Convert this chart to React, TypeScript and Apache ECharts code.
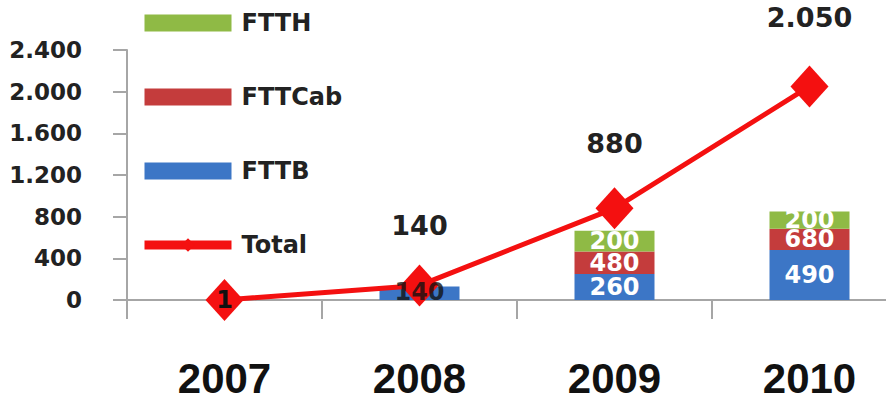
import React, { useEffect, useRef } from "react";
import * as echarts from "echarts";

const years = ["2007", "2008", "2009", "2010"];
// drawn segment heights
const fttbHeights = [null, 130, 250, 480];
const fttcabHeights = [null, null, 215, 205];
const ftthHeights = [null, null, 200, 165];
// numbers printed on the segments
const fttbLabels = ["", "140", "260", "490"];
const fttcabLabels = ["", "", "480", "680"];
const ftthLabels = ["", "", "200", "200"];
const totalValues = [1, 140, 880, 2050];
const totalLabels = ["1", "140", "880", "2.050"];
const yTicks = [0, 400, 800, 1200, 1600, 2000, 2400];

const fmtThousands = (v: number) => {
  const s = String(Math.round(v));
  return s.replace(/\B(?=(\d{3})+(?!\d))/g, ".");
};

const GREEN = "#8fba45";
const RED = "#c43c3c";
const BLUE = "#3c76c6";
const LINE = "#f41010";

export default function App() {
  const ref = useRef<HTMLDivElement>(null);
  useEffect(() => {
    document.body.style.margin = "0";
    document.body.style.overflow = "hidden";
    document.documentElement.style.overflow = "hidden";
    if (!ref.current) return;
    const chart = echarts.init(ref.current, undefined, { renderer: "svg" });
    const barLabel = (labels: string[], color: string) => ({
      show: true,
      position: "inside",
      color,
      fontFamily: "DejaVu Sans",
      fontWeight: "bold",
      fontSize: 24,
      formatter: (p: any) => labels[p.dataIndex],
    });
    chart.setOption({
      animation: false,
      backgroundColor: "#ffffff",
      grid: { left: 127, right: 1, top: 50, bottom: 105, containLabel: false },
      legend: {
        orient: "vertical",
        left: 140,
        top: 11,
        padding: 0,
        itemWidth: 87,
        itemHeight: 17,
        itemGap: 50,
        selectedMode: false,
        textStyle: {
          fontFamily: "DejaVu Sans",
          fontWeight: "bold",
          fontSize: 24,
          color: "#222",
          padding: [0, 0, 0, 5],
        },
        data: [
          { name: "FTTH", icon: "rect" },
          { name: "FTTCab", icon: "rect" },
          { name: "FTTB", icon: "rect" },
          { name: "Total", lineStyle: { width: 9 } },
        ],
      },
      xAxis: {
        type: "category",
        data: years,
        boundaryGap: true,
        axisLine: { show: true, lineStyle: { color: "#a6a6a6", width: 2 } },
        axisTick: { show: true, length: 19, interval: 0, lineStyle: { color: "#a6a6a6", width: 2 } },
        axisLabel: {
          margin: 57,
          fontFamily: "Liberation Sans",
          fontWeight: "bold",
          fontSize: 42,
          color: "#111",
        },
      },
      yAxis: {
        type: "value",
        min: 0,
        max: yTicks[yTicks.length - 1],
        interval: yTicks[1] - yTicks[0],
        splitLine: { show: false },
        axisLine: { show: true, lineStyle: { color: "#a6a6a6", width: 2 } },
        axisTick: { show: true, length: 14, lineStyle: { color: "#a6a6a6", width: 2 } },
        axisLabel: {
          margin: 45,
          fontFamily: "DejaVu Sans",
          fontWeight: "bold",
          fontSize: 23,
          color: "#222",
          formatter: (v: number) => fmtThousands(v),
        },
      },
      series: [
        {
          name: "FTTB",
          type: "bar",
          stack: "fiber",
          barWidth: 80,
          z: 2,
          itemStyle: { color: BLUE },
          label: {
            ...barLabel(fttbLabels, "#fff"),
            formatter: (p: any) => (p.dataIndex === 1 ? "" : fttbLabels[p.dataIndex]),
          },
          data: fttbHeights,
        },
        {
          name: "FTTCab",
          type: "bar",
          stack: "fiber",
          barWidth: 80,
          z: 2,
          itemStyle: { color: RED },
          label: barLabel(fttcabLabels, "#fff"),
          data: fttcabHeights,
        },
        {
          name: "FTTH",
          type: "bar",
          stack: "fiber",
          barWidth: 80,
          z: 2,
          itemStyle: { color: GREEN },
          label: barLabel(ftthLabels, "#fff"),
          data: ftthHeights,
        },
        {
          name: "Total",
          type: "line",
          z: 3,
          symbol: "diamond",
          symbolSize: [38, 42],
          lineStyle: { color: LINE, width: 5 },
          itemStyle: { color: LINE },
          label: {
            show: true,
            position: "top",
            color: "#222",
            fontFamily: "DejaVu Sans",
            fontWeight: "bold",
            fontSize: 27,
            formatter: (p: any) => totalLabels[p.dataIndex],
          },
          data: totalValues.map((v, i) => {
            if (i === 0)
              return {
                value: v,
                label: { position: "inside", fontSize: 24, color: "#111" },
              };
            const dist = [0, 25, 30, 34][i];
            return { value: v, label: { distance: dist } };
          }),
        },
        {
          // carries the 2008 FTTB number, drawn over the Total marker as in the picture
          name: "FTTB label",
          type: "scatter",
          z: 5,
          symbolSize: 0,
          silent: true,
          label: {
            show: true,
            position: "inside",
            color: "#111",
            fontFamily: "DejaVu Sans",
            fontWeight: "bold",
            fontSize: 24,
            formatter: (p: any) => fttbLabels[p.dataIndex],
          },
          data: fttbHeights.map((v, i) => (i === 1 && v != null ? v / 2 + 10 : null)),
        },
      ],
    });
    return () => chart.dispose();
  }, []);
  return <div ref={ref} style={{ width: 908, height: 405 }} />;
}
